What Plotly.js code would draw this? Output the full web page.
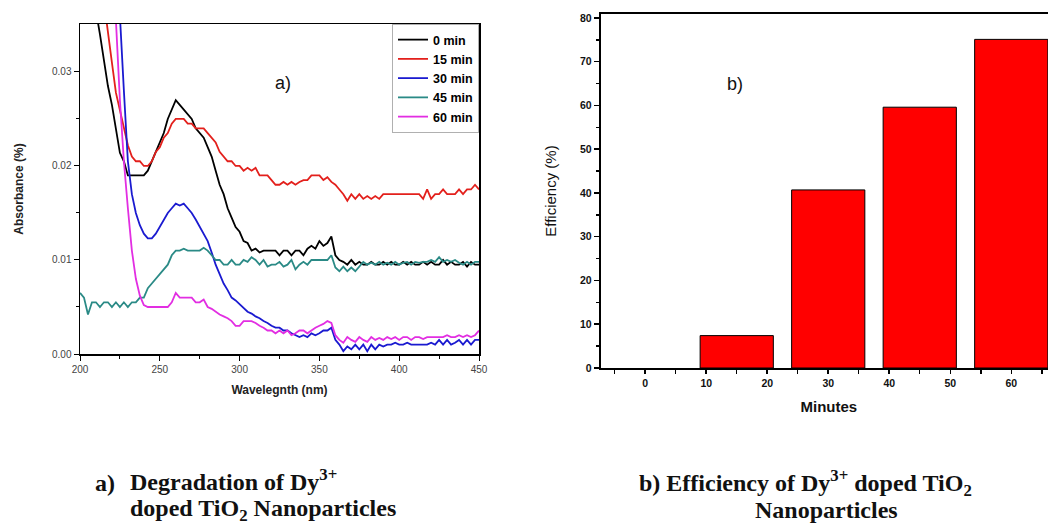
<!DOCTYPE html>
<html>
<head>
<meta charset="utf-8">
<script src="https://cdn.plot.ly/plotly-3.0.1.min.js"></script>
<style>
html,body{margin:0;padding:0;background:#fff;overflow:hidden;width:1048px;height:524px;}
#chart{width:1060px;height:524px;}
</style>
</head>
<body>
<div id="chart"></div>
<script>
// ---------- data: panel a) absorbance spectra ----------
const wavelength = [
200,202.5,205,207.5,210,212.5,215,217.5,220,222.5,
225,227.5,230,232.5,235,237.5,240,242.5,245,247.5,
250,252.5,255,257.5,260,262.5,265,267.5,270,272.5,
275,277.5,280,282.5,285,287.5,290,292.5,295,297.5,
300,302.5,305,307.5,310,312.5,315,317.5,320,322.5,
325,327.5,330,332.5,335,337.5,340,342.5,345,347.5,
350,352.5,355,357.5,360,362.5,365,367.5,370,372.5,
375,377.5,380,382.5,385,387.5,390,392.5,395,397.5,
400,402.5,405,407.5,410,412.5,415,417.5,420,422.5,
425,427.5,430,432.5,435,437.5,440,442.5,445,447.5,
450];

const abs0min = [
0.046,0.043,0.041,0.0385,0.0365,0.034,0.031,0.0285,0.0265,0.024,
0.0214,0.0205,0.019,0.019,0.019,0.019,0.019,0.0195,0.0205,0.0215,
0.0225,0.0235,0.025,0.026,0.027,0.0265,0.026,0.0255,0.025,0.024,
0.0235,0.023,0.022,0.021,0.0195,0.018,0.017,0.0155,0.0145,0.0135,
0.013,0.012,0.0118,0.011,0.0112,0.0108,0.011,0.011,0.011,0.011,
0.0105,0.011,0.011,0.0105,0.011,0.011,0.0105,0.0112,0.0115,0.0112,
0.012,0.0115,0.0118,0.0125,0.0105,0.010,0.0098,0.0095,0.010,0.0095,
0.0098,0.0095,0.0095,0.0098,0.0095,0.0095,0.0098,0.0095,0.0098,0.0095,
0.0095,0.0098,0.0095,0.0098,0.0095,0.0095,0.0098,0.0095,0.0098,0.0095,
0.0095,0.010,0.0095,0.0098,0.0095,0.0095,0.0098,0.0093,0.0098,0.0095,
0.0095];

const abs15min = [
0.057,0.054,0.051,0.047,0.044,0.041,0.0375,0.0345,0.031,0.0278,
0.026,0.024,0.0222,0.021,0.0205,0.0205,0.020,0.020,0.0205,0.0215,
0.022,0.023,0.0235,0.0245,0.025,0.025,0.025,0.0245,0.0245,0.024,
0.024,0.024,0.0235,0.023,0.0225,0.0215,0.021,0.0205,0.0205,0.020,
0.020,0.0195,0.0198,0.0195,0.0198,0.019,0.019,0.019,0.0185,0.018,
0.018,0.0183,0.018,0.0183,0.018,0.0183,0.0185,0.0185,0.019,0.019,
0.019,0.0185,0.0188,0.0183,0.018,0.0175,0.017,0.0163,0.017,0.0165,
0.017,0.0165,0.0168,0.0165,0.0168,0.0165,0.017,0.017,0.017,0.017,
0.017,0.017,0.017,0.017,0.017,0.017,0.0165,0.0175,0.0165,0.017,
0.017,0.0175,0.017,0.017,0.017,0.0175,0.017,0.0175,0.0175,0.018,
0.0175];

const abs30min = [
0.080,0.075,0.070,0.065,0.060,0.055,0.050,0.046,0.042,0.039,
0.036,0.028,0.0205,0.017,0.015,0.0137,0.0128,0.0123,0.0123,0.0128,
0.0135,0.0142,0.015,0.0155,0.016,0.0158,0.016,0.0155,0.015,0.0143,
0.0135,0.0128,0.012,0.0108,0.0095,0.0085,0.0075,0.0068,0.006,0.0057,
0.0053,0.005,0.0045,0.0043,0.004,0.0038,0.0035,0.0033,0.003,0.0028,
0.0028,0.0025,0.0025,0.0022,0.002,0.0018,0.002,0.0018,0.0022,0.002,
0.0022,0.0025,0.0025,0.0028,0.0015,0.001,0.0003,0.0008,0.0005,0.001,
0.0005,0.001,0.0003,0.001,0.0005,0.001,0.0008,0.001,0.001,0.0012,
0.001,0.001,0.0012,0.001,0.001,0.001,0.001,0.001,0.0012,0.001,
0.0015,0.001,0.0015,0.001,0.0012,0.0015,0.001,0.0015,0.001,0.0015,
0.0015];

const abs45min = [
0.0065,0.006,0.0042,0.0055,0.0055,0.005,0.0055,0.0055,0.005,0.0055,
0.005,0.0055,0.005,0.0055,0.0055,0.006,0.006,0.007,0.0075,0.008,
0.0085,0.009,0.0095,0.0105,0.011,0.011,0.0112,0.011,0.011,0.011,
0.011,0.0113,0.011,0.0105,0.010,0.010,0.0095,0.0095,0.010,0.0095,
0.0095,0.010,0.0098,0.0103,0.010,0.0095,0.010,0.0093,0.0095,0.0095,
0.0098,0.0093,0.0095,0.010,0.009,0.0095,0.0098,0.0095,0.010,0.010,
0.010,0.010,0.010,0.0105,0.0092,0.0088,0.0093,0.0088,0.0092,0.0088,
0.0093,0.0098,0.0095,0.0097,0.0095,0.0098,0.0095,0.0097,0.0095,0.0098,
0.0095,0.0097,0.0098,0.0095,0.0098,0.0097,0.0098,0.0098,0.010,0.0098,
0.0103,0.0098,0.010,0.0098,0.010,0.0097,0.0095,0.0098,0.0095,0.0098,
0.0098];

const abs60min = [
0.075,0.070,0.065,0.060,0.055,0.051,0.047,0.043,0.039,0.0355,
0.027,0.0205,0.0155,0.011,0.008,0.0062,0.0052,0.005,0.005,0.005,
0.005,0.005,0.005,0.0055,0.0065,0.006,0.006,0.006,0.006,0.0055,
0.0055,0.0058,0.005,0.0048,0.0045,0.0042,0.004,0.0038,0.0035,0.003,
0.003,0.0035,0.0035,0.0035,0.0033,0.003,0.0028,0.0025,0.0025,0.0022,
0.0025,0.0022,0.0025,0.002,0.0022,0.0025,0.0025,0.0022,0.0025,0.0028,
0.003,0.0032,0.0035,0.0033,0.002,0.0015,0.0012,0.0018,0.0015,0.0013,
0.0018,0.0015,0.0013,0.0018,0.0015,0.0017,0.0015,0.0018,0.0016,0.0018,
0.0015,0.0018,0.0018,0.0015,0.0018,0.0018,0.0016,0.0018,0.0018,0.0018,
0.0018,0.0018,0.002,0.0018,0.0018,0.002,0.0018,0.002,0.0018,0.002,
0.0025];

const seriesNames = ["0 min","15 min","30 min","45 min","60 min"];
const seriesColors = ["#000000","#e3201c","#1a1ad0","#2a8a86","#e22ee2"];

// ---------- data: panel b) efficiency ----------
const minutes = [0, 15, 30, 45, 60];
const efficiency = [0, 7.4, 40.7, 59.6, 75.1];

// ---------- helpers for paper positioning ----------
const W = 1060, H = 524;
const px = x => x / W;
const py = y => 1 - y / H;

const absSeries = [abs0min, abs15min, abs30min, abs45min, abs60min];
const traces = absSeries.map((vals, i) => ({
  type: "scatter",
  mode: "lines",
  x: wavelength,
  y: vals,
  name: seriesNames[i],
  line: {color: seriesColors[i], width: 1.8, shape: "linear"},
  xaxis: "x", yaxis: "y"
}));

traces.push({
  type: "bar",
  x: minutes,
  y: efficiency,
  width: 12,
  marker: {color: "#ff0000", line: {color: "#000000", width: efficiency.map(v => v > 0 ? 1 : 0)}},
  showlegend: false,
  xaxis: "x2", yaxis: "y2"
});

const sans = "Liberation Sans, Arial, sans-serif";
const serif = "Liberation Serif, Times New Roman, serif";
const capFont = {size: 24, family: serif, color: "#111"};

const layout = {
  width: W, height: H,
  margin: {l: 0, r: 0, t: 0, b: 0},
  paper_bgcolor: "#ffffff",
  plot_bgcolor: "#ffffff",
  font: {family: sans, color: "#000"},
  showlegend: true,
  legend: {
    x: px(479), xanchor: "right", y: py(24), yanchor: "top",
    bgcolor: "#ffffff", bordercolor: "#b0b0b0", borderwidth: 1,
    font: {family: sans, size: 12.5, color: "#000", weight: "bold"},
    tracegroupgap: 0
  },
  xaxis: {
    domain: [px(80), px(479)],
    range: [200, 450],
    tickvals: [200, 250, 300, 350, 400, 450],
    ticks: "outside", ticklen: 5, tickwidth: 1, tickcolor: "#000",
    minor: {tickvals: [225, 275, 325, 375, 425], ticks: "outside", ticklen: 3, tickwidth: 1, tickcolor: "#000", showgrid: false},
    showline: true, mirror: true, linecolor: "#000", linewidth: 1.5,
    showgrid: false, zeroline: false,
    tickfont: {size: 10, color: "#444", family: sans},
    title: {text: "<b>Wavelegnth (nm)</b>", font: {size: 12, color: "#222", family: sans}, standoff: 12},
    anchor: "y"
  },
  yaxis: {
    domain: [py(354), py(24)],
    range: [0, 0.0351],
    tickvals: [0, 0.01, 0.02, 0.03],
    ticktext: ["0.00", "0.01", "0.02", "0.03"],
    ticks: "outside", ticklen: 5, tickwidth: 1, tickcolor: "#000",
    minor: {tickvals: [0.005, 0.015, 0.025], ticks: "outside", ticklen: 3, tickwidth: 1, tickcolor: "#000", showgrid: false},
    showline: true, mirror: true, linecolor: "#000", linewidth: 1.5,
    showgrid: false, zeroline: false,
    tickfont: {size: 10, color: "#444", family: sans},
    title: {text: "<b>Absorbance (%)</b>", font: {size: 12, color: "#222", family: sans}, standoff: 26},
    anchor: "x"
  },
  xaxis2: {
    domain: [px(600.7), px(1057)],
    range: [-7.3, 67.5],
    tickvals: [0, 10, 20, 30, 40, 50, 60],
    ticks: "outside", ticklen: 4, tickwidth: 1.5, tickcolor: "#000",
    minor: {tickvals: [-5, 5, 15, 25, 35, 45, 55, 65], ticks: "outside", ticklen: 4, tickwidth: 1.5, tickcolor: "#000", showgrid: false},
    showline: true, mirror: true, linecolor: "#000", linewidth: 2,
    showgrid: false, zeroline: false,
    tickfont: {size: 10.5, color: "#111", family: sans, weight: "bold"},
    title: {text: "<b>Minutes</b>", font: {size: 15, color: "#111", family: sans}, standoff: 14},
    anchor: "y2"
  },
  yaxis2: {
    domain: [py(368), py(14)],
    range: [0, 80.9],
    tickvals: [0, 10, 20, 30, 40, 50, 60, 70, 80],
    ticks: "outside", ticklen: 5, tickwidth: 1.5, tickcolor: "#000",
    minor: {tickvals: [5, 15, 25, 35, 45, 55, 65, 75], ticks: "outside", ticklen: 3, tickwidth: 1.5, tickcolor: "#000", showgrid: false},
    showline: true, mirror: true, linecolor: "#000", linewidth: 2,
    showgrid: false, zeroline: false,
    tickfont: {size: 10.5, color: "#111", family: sans, weight: "bold"},
    title: {text: "Efficiency (%)", font: {size: 15, color: "#111", family: sans}, standoff: 20},
    anchor: "x2"
  },
  annotations: [
    {text: "a)", x: px(283), y: py(83), xref: "paper", yref: "paper", showarrow: false,
     xanchor: "center", yanchor: "middle", font: {size: 18, family: sans, color: "#111"}},
    {text: "b)", x: px(735), y: py(84), xref: "paper", yref: "paper", showarrow: false,
     xanchor: "center", yanchor: "middle", font: {size: 18, family: sans, color: "#111"}},
    {text: "<b>a)</b>", x: px(93), y: py(483), xref: "paper", yref: "paper", showarrow: false,
     xanchor: "left", yanchor: "middle", font: capFont},
    {text: "<b>Degradation of Dy<sup>3+</sup></b>", x: px(128), y: py(480), xref: "paper", yref: "paper", showarrow: false,
     xanchor: "left", yanchor: "middle", font: capFont},
    {text: "<b>doped TiO<sub>2</sub> Nanoparticles</b>", x: px(128), y: py(510), xref: "paper", yref: "paper", showarrow: false,
     xanchor: "left", yanchor: "middle", font: capFont},
    {text: "<b>b) Efficiency of Dy<sup>3+</sup> doped TiO<sub>2</sub></b>", x: px(805), y: py(483), xref: "paper", yref: "paper", showarrow: false,
     xanchor: "center", yanchor: "middle", font: capFont},
    {text: "<b>Nanoparticles</b>", x: px(826), y: py(510), xref: "paper", yref: "paper", showarrow: false,
     xanchor: "center", yanchor: "middle", font: capFont}
  ]
};

Plotly.newPlot("chart", traces, layout, {displayModeBar: false, staticPlot: true});
</script>
</body>
</html>
